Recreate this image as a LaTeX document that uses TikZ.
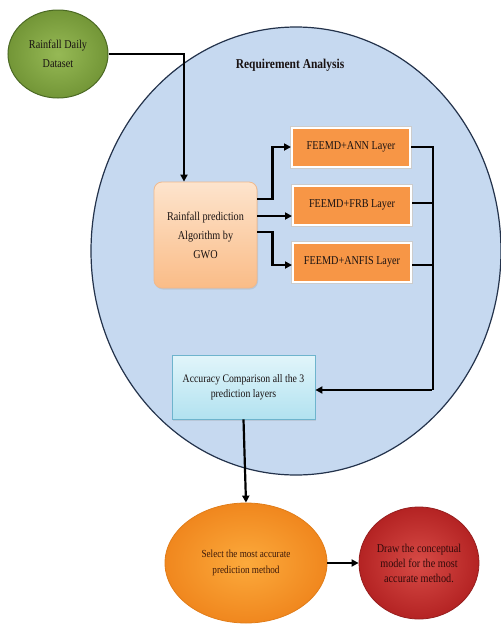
\documentclass[tikz,border=0pt]{standalone}
\usepackage{fontspec}
\setmainfont[FakeStretch=0.85]{Liberation Serif}
\usetikzlibrary{shapes.geometric,arrows.meta,shadows}
\definecolor{bgblue}{RGB}{198,217,240}
\definecolor{navy}{RGB}{35,50,75}
\definecolor{gin}{RGB}{150,185,85}
\definecolor{gout}{RGB}{115,150,55}
\definecolor{gdraw}{RGB}{75,105,35}
\definecolor{peachtop}{RGB}{253,228,205}
\definecolor{peachbot}{RGB}{250,188,135}
\definecolor{peachdraw}{RGB}{240,185,140}
\definecolor{feemd}{RGB}{247,150,70}
\definecolor{cyantop}{RGB}{225,245,250}
\definecolor{cyanbot}{RGB}{178,226,240}
\definecolor{cyandraw}{RGB}{110,180,205}
\definecolor{oin}{RGB}{252,170,60}
\definecolor{oout}{RGB}{240,135,30}
\definecolor{odraw}{RGB}{225,125,25}
\definecolor{rin}{RGB}{215,75,70}
\definecolor{rout}{RGB}{180,35,35}
\definecolor{rdraw}{RGB}{150,30,30}
\definecolor{txt}{RGB}{25,18,18}
\definecolor{otxt}{RGB}{60,25,10}
\definecolor{rtxt}{RGB}{50,10,10}
\begin{document}
\begin{tikzpicture}[x=1pt,y=-1pt,
  lbl/.style={align=center,text=txt,font=\fontsize{12}{15}\selectfont},
  conn/.style={line width=2.2pt,-{Triangle[length=7pt,width=7pt]}},
  plain/.style={line width=2.2pt},
  feemdbox/.style={lbl,rectangle,fill=feemd,draw=white,line width=2pt,
    preaction={draw=black!20,line width=4pt},
    minimum width=118pt,minimum height=39pt,inner sep=0pt}]
\useasboundingbox (0,0) rectangle (501,625);
\fill[white] (0,0) rectangle (501,625);
% container
\node (req) [ellipse,fill=bgblue,draw=navy,line width=1.2pt,
  minimum width=410pt,minimum height=448pt] at (296,251) {};
\node (title) [text=txt,font=\fontsize{13.5}{15}\selectfont\bfseries] at (290,65) {Requirement Analysis};
% nodes
\node (data) [lbl,ellipse,inner color=gin,outer color=gout,draw=gdraw,line width=1pt,
  minimum width=100pt,minimum height=88pt,inner sep=0pt,
  font=\fontsize{12}{19}\selectfont] at (58,54) {Rainfall Daily\\Dataset};
\node (gwo) [lbl,rectangle,rounded corners=8pt,top color=peachtop,bottom color=peachbot,
  draw=peachdraw,line width=0.8pt,minimum width=103pt,minimum height=106pt,inner sep=0pt,
  drop shadow={opacity=0.2,shadow xshift=1pt,shadow yshift=-1.5pt},
  font=\fontsize{12}{19}\selectfont] at (205.5,235) {Rainfall prediction\\Algorithm by\\GWO};
\node (f1) [feemdbox] at (351,147) {FEEMD+ANN Layer};
\node (f2) [feemdbox] at (352,205) {FEEMD+FRB Layer};
\node (f3) [feemdbox] at (352,262) {FEEMD+ANFIS Layer};
\node (acc) [lbl,rectangle,top color=cyantop,bottom color=cyanbot,draw=cyandraw,line width=0.8pt,
  minimum width=143pt,minimum height=64pt,inner sep=0pt,
  font=\fontsize{11.5}{15}\selectfont,
  drop shadow={opacity=0.2,shadow xshift=1pt,shadow yshift=-1.5pt}] at (243.5,387)
  {Accuracy Comparison all the 3\\prediction layers};
\node (sel) [lbl,ellipse,inner color=oin,outer color=oout,draw=odraw,line width=0.8pt,
  minimum width=162pt,minimum height=120pt,inner sep=0pt,text=otxt,
  font=\fontsize{10.8}{16}\selectfont] at (246,563)
  {Select the most accurate\\prediction method};
\node (drw) [lbl,ellipse,inner color=rin,outer color=rout,draw=rdraw,line width=0.8pt,
  minimum width=120pt,minimum height=112pt,inner sep=0pt,text=rtxt] at (419,563)
  {Draw the conceptual\\model for the most\\accurate method.};
% connectors
\draw[conn] (data.east) -| ([xshift=-21.5pt]gwo.north);
\coordinate (a1) at ([yshift=36pt]gwo.east);
\coordinate (a2) at ([yshift=19pt]gwo.east);
\coordinate (a3) at ([yshift=3pt]gwo.east);
\draw[conn] (a1) -- ++(15,0) |- (f1.west);
\draw[conn] (a2) -- (a2 -| f2.west);
\draw[conn] (a3) -- ++(15,0) |- ([yshift=-3pt]f3.west);
\coordinate (bar) at (433,390);
\draw[plain] (f1.east) -| (bar);
\draw[plain] ([yshift=2pt]f2.east) -- ([yshift=2pt]f2.east -| bar);
\draw[plain] ([yshift=-3pt]f3.east) -- ([yshift=-3pt]f3.east -| bar);
\draw[conn] ([xshift=-1.1pt]bar) -- (bar -| acc.east);
\draw[conn] (acc.south) -- (sel.north);
\draw[conn] (sel.east) -- (drw.west);
\end{tikzpicture}
\end{document}
